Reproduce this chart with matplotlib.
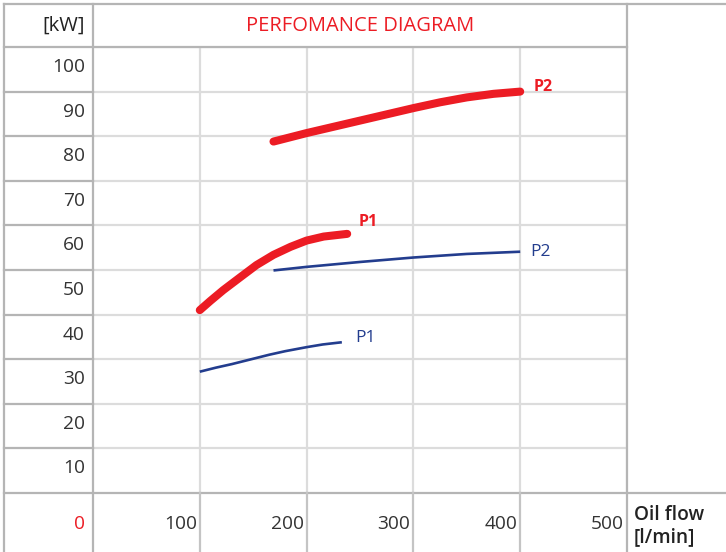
import matplotlib
matplotlib.use("Agg")
import matplotlib.pyplot as plt
from matplotlib.lines import Line2D

plt.rcParams["font.family"] = ["Open Sans", "DejaVu Sans"]

# oil flow [l/min] vs power [kW]
red_p1_x = [100, 110, 122, 138, 153, 169, 185, 200, 216, 238]
red_p1_y = [41.0, 43.1, 45.5, 48.4, 51.1, 53.4, 55.2, 56.6, 57.5, 58.1]
red_p2_x = [169, 200, 225, 250, 275, 300, 325, 350, 375, 400]
red_p2_y = [78.8, 80.7, 82.1, 83.5, 84.9, 86.3, 87.6, 88.7, 89.5, 90.0]
blue_p1_x = [100, 115, 130, 150, 165, 180, 200, 215, 233]
blue_p1_y = [27.2, 28.1, 28.9, 30.1, 31.0, 31.8, 32.7, 33.3, 33.8]
blue_p2_x = [169, 200, 250, 300, 350, 400]
blue_p2_y = [49.9, 50.7, 51.8, 52.8, 53.6, 54.1]

x_ticks = [100, 200, 300, 400, 500]
y_ticks = [10, 20, 30, 40, 50, 60, 70, 80, 90, 100]

RED = "#ec1c24"
BLUE = "#233d8e"
TEXT = "#333333"
GRID = "#dcdcdc"
BORDER = "#b5b5b5"

W, H = 726, 552
fig = plt.figure(figsize=(W / 100, H / 100), dpi=100)
fig.patch.set_facecolor("white")

# plot area in pixel box 93..627 x 47..493
ax = fig.add_axes([93 / W, (H - 493) / H, (627 - 93) / W, (493 - 47) / H])
ax.set_xlim(0, 500)
ax.set_ylim(0, 100)
ax.set_xticks(x_ticks)
ax.set_yticks(y_ticks)
ax.tick_params(length=0, labelleft=False, labelbottom=False)
ax.grid(True, color=GRID, lw=1.6)
for s in ax.spines.values():
    s.set_visible(False)


def hline(y, x0, x1, color=BORDER, lw=1.6):
    fig.add_artist(Line2D([x0 / W, x1 / W], [1 - y / H, 1 - y / H],
                          transform=fig.transFigure, color=color, lw=lw))


def vline(x, y0, y1, color=BORDER, lw=1.6):
    fig.add_artist(Line2D([x / W, x / W], [1 - y0 / H, 1 - y1 / H],
                          transform=fig.transFigure, color=color, lw=lw))


# table frame
hline(4, 4, W)
hline(47, 4, 627)
hline(493, 4, W)
vline(4, 4, H)
vline(93, 4, H)
vline(627, 4, H)
for v in y_ticks[:-1]:
    py = 493 - v * 4.46
    hline(py, 4, 93)
for v in x_ticks[:-1]:
    px = 93 + v * 1.068
    vline(px, 493, H, color="#c4c4c4")

# curves
ax.plot(blue_p1_x, blue_p1_y, color=BLUE, lw=1.9, solid_capstyle="butt")
ax.plot(blue_p2_x, blue_p2_y, color=BLUE, lw=1.9, solid_capstyle="butt")
ax.plot(red_p1_x, red_p1_y, color=RED, lw=5.8, solid_capstyle="round",
        solid_joinstyle="round")
ax.plot(red_p2_x, red_p2_y, color=RED, lw=5.8, solid_capstyle="round",
        solid_joinstyle="round")

# curve labels
ax.annotate("P2", (red_p2_x[-1], red_p2_y[-1]), xytext=(13, 5),
            textcoords="offset pixels", color=RED, fontsize=11.5,
            fontweight="bold", va="center", ha="left")
ax.annotate("P1", (red_p1_x[-1], red_p1_y[-1]), xytext=(11, 12),
            textcoords="offset pixels", color=RED, fontsize=11.5,
            fontweight="bold", va="center", ha="left")
ax.annotate("P2", (blue_p2_x[-1], blue_p2_y[-1]), xytext=(10, 0),
            textcoords="offset pixels", color=BLUE, fontsize=12.5,
            va="center", ha="left")
ax.annotate("P1", (blue_p1_x[-1], blue_p1_y[-1]), xytext=(13, 4),
            textcoords="offset pixels", color=BLUE, fontsize=12.5,
            va="center", ha="left")

# axis labels drawn inside the table cells
for v in y_ticks:
    ax.annotate(str(v), (0, v), xycoords=("axes fraction", "data"),
                xytext=(-8, -20), textcoords="offset pixels",
                ha="right", va="center", fontsize=13.8, color=TEXT)
for v in x_ticks:
    ax.annotate(str(v), (v, 0), xycoords=("data", "axes fraction"),
                xytext=(-3, -31), textcoords="offset pixels",
                ha="right", va="center", fontsize=13.8, color=TEXT)
ax.annotate("0", (0, 0), xycoords="axes fraction", xytext=(-8, -31),
            textcoords="offset pixels", ha="right", va="center",
            fontsize=13.8, color=RED)

fig.text(85 / W, 1 - 26 / H, "[kW]", ha="right", va="center",
         fontsize=14.5, color="#222222")
fig.text(360 / W, 1 - 26 / H, "PERFOMANCE DIAGRAM", ha="center",
         va="center", fontsize=14.5, color=RED)
fig.text(634 / W, 1 - 515 / H, "Oil flow", ha="left", va="center",
         fontsize=13.8, color="#222222", fontweight="semibold")
fig.text(634 / W, 1 - 537 / H, "[l/min]", ha="left", va="center",
         fontsize=13.8, color="#222222", fontweight="semibold")

fig.savefig("out.png", dpi=100)
